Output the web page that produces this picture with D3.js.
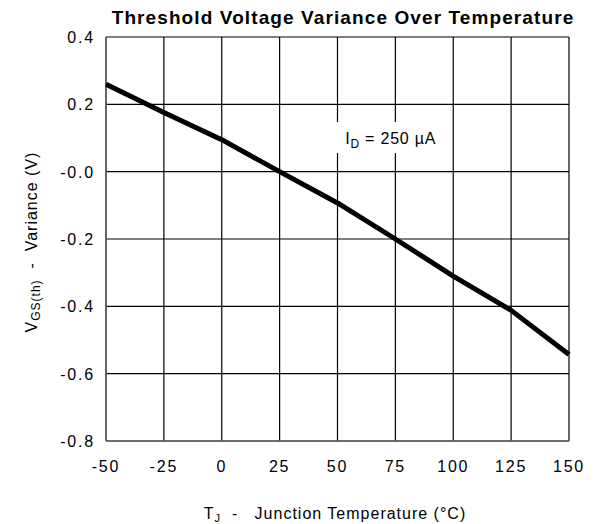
<!DOCTYPE html>
<html>
<head>
<meta charset="utf-8">
<script src="https://cdn.jsdelivr.net/npm/d3@7"></script>
<style>
  body { margin: 0; background: #fff; }
  text { font-family: "Liberation Sans", Arial, sans-serif; fill: #000; }
</style>
</head>
<body>
<div id="chart"></div>
<script>
// data
var temps = [-50, -25, 0, 25, 50, 75, 100, 125, 150]
var variance = [0.26, 0.176, 0.095, 0.0, -0.093, -0.2, -0.31, -0.412, -0.543]
var xTicks = [-50, -25, 0, 25, 50, 75, 100, 125, 150]
var yTicks = [-0.8, -0.6, -0.4, -0.2, 0.0, 0.2, 0.4]
var yTickLabels = ["-0.8", "-0.6", "-0.4", "-0.2", "-0.0", "0.2", "0.4"]

var width = 596, height = 524
var margin = { top: 37, left: 106, right: 27, bottom: 83 }
var chartWidth = width - margin.left - margin.right
var chartHeight = height - margin.top - margin.bottom

var svg = d3.select("#chart").append("svg")
    .attr("width", width)
    .attr("height", height)

var x = d3.scaleLinear().domain([-50, 150]).range([0, chartWidth])
var y = d3.scaleLinear().domain([-0.8, 0.4]).range([chartHeight, 0])

var g = svg.append("g")
    .attr("transform", "translate(" + [margin.left, margin.top] + ")")

// grid
g.append("g").selectAll("line").data(xTicks).enter().append("line")
    .attr("x1", function(d) { return x(d) }).attr("x2", function(d) { return x(d) })
    .attr("y1", 0).attr("y2", chartHeight)
    .attr("stroke", "#000").attr("stroke-width", 1.2)
g.append("g").selectAll("line").data(yTicks).enter().append("line")
    .attr("y1", function(d) { return y(d) }).attr("y2", function(d) { return y(d) })
    .attr("x1", 0).attr("x2", chartWidth)
    .attr("stroke", "#000").attr("stroke-width", 1.2)

// left and bottom axis lines are a touch grey in the reference
g.append("line").attr("x1", 0).attr("x2", 0).attr("y1", 0).attr("y2", chartHeight)
    .attr("stroke", "#666").attr("stroke-width", 1.5)
g.append("line").attr("x1", 0).attr("x2", chartWidth).attr("y1", chartHeight).attr("y2", chartHeight)
    .attr("stroke", "#666").attr("stroke-width", 1.5)

// annotation box hides the grid behind it
var tx = x(53.3), ty = y(0.082)
g.append("rect")
    .attr("x", tx - 13).attr("y", ty - 22)
    .attr("width", 112).attr("height", 31)
    .attr("fill", "#fff")
var ann = g.append("text").attr("x", tx).attr("y", ty)
    .attr("font-size", 16).attr("letter-spacing", 0.8)
ann.append("tspan").text("I")
ann.append("tspan").attr("font-size", 12).attr("dy", 4).text("D")
ann.append("tspan").attr("dy", -4).text(" = 250 \u00b5A")

// curve
var line = d3.line()
    .x(function(d, i) { return x(temps[i]) })
    .y(function(d) { return y(d) })
g.append("path")
    .datum(variance)
    .attr("d", line)
    .attr("fill", "none")
    .attr("stroke", "#000")
    .attr("stroke-width", 5)
    .attr("stroke-linejoin", "round")

// tick labels
g.append("g").selectAll("text").data(xTicks).enter().append("text")
    .attr("x", function(d) { return x(d) })
    .attr("y", chartHeight + 31)
    .attr("text-anchor", "middle")
    .attr("font-size", 16)
    .attr("letter-spacing", 1.8)
    .text(function(d) { return d })
g.append("g").selectAll("text").data(yTicks).enter().append("text")
    .attr("x", -11)
    .attr("y", function(d) { return y(d) + 6 })
    .attr("text-anchor", "end")
    .attr("font-size", 16)
    .attr("letter-spacing", 1.8)
    .text(function(d, i) { return yTickLabels[i] })

// title
svg.append("text")
    .attr("x", 343).attr("y", 24)
    .attr("text-anchor", "middle")
    .attr("font-size", 19)
    .attr("font-weight", "bold")
    .attr("letter-spacing", 1.1)
    .text("Threshold Voltage Variance Over Temperature")

// x axis title
var xt = svg.append("text")
    .attr("x", 335).attr("y", 519)
    .attr("text-anchor", "middle")
    .attr("font-size", 16)
    .attr("letter-spacing", 1)
xt.append("tspan").text("T")
xt.append("tspan").attr("font-size", 11).attr("dy", 3).text("J")
xt.append("tspan").attr("dy", -3).attr("xml:space", "preserve").text("  -   Junction Temperature (\u00b0C)")

// y axis title
var yt = svg.append("text")
    .attr("transform", "translate(37," + 242 + ") rotate(-90)")
    .attr("text-anchor", "middle")
    .attr("font-size", 16)
    .attr("letter-spacing", 1)
yt.append("tspan").text("V")
yt.append("tspan").attr("font-size", 12).attr("dy", 3).text("GS(th)")
yt.append("tspan").attr("dy", -3).attr("xml:space", "preserve").text("  -  Variance (V)")
</script>
</body>
</html>
